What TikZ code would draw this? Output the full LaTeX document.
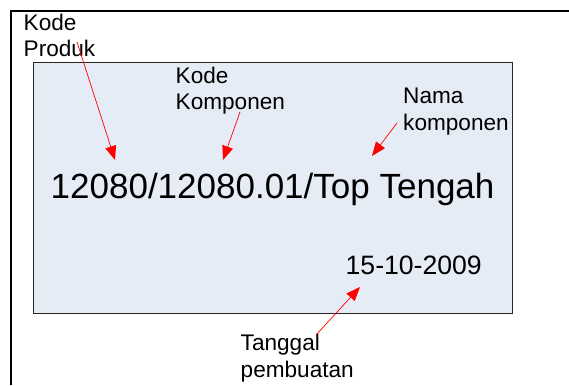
\documentclass[tikz,border=0pt]{standalone}
\usepackage{fontspec}
\setmainfont{Liberation Sans}
\usetikzlibrary{arrows.meta}
\definecolor{cardfill}{RGB}{230,236,246}
\tikzset{
  lbl/.style={inner sep=0pt, align=left, anchor=base west, font=\fontsize{22.6}{26.5}\selectfont},
  redarrow/.style={draw=red, line width=0.7pt, -{Triangle[length=14pt,width=11pt]}},
  frame/.style={line width=2pt}
}
\begin{document}
\begin{tikzpicture}[x=1pt,y=-1pt]
\useasboundingbox (0,0) rectangle (569,385);
% outer frame
\coordinate (fa) at (11,385);
\coordinate (fb) at (11,11);
\coordinate (fc) at (569,11);
\draw[frame] (fa) -- (fb) -- (fc);
% card
\node (card) [draw=black!85, line width=0.8pt, fill=cardfill, minimum width=479pt, minimum height=251pt, anchor=north west, inner sep=0pt] at (33,62) {};
% main texts
\node (code) [inner sep=0pt, anchor=base west, font=\fontsize{35}{40}\selectfont] at (50.5,198) {12080/12080.01/Top Tengah};
\node (date) [inner sep=0pt, anchor=base west, font=\fontsize{26.6}{31}\selectfont] at (345.5,274) {15-10-2009};
% labels (base = last line)
\node (kp) [lbl] at (23.5,57) {Kode\\Produk};
\node (kk) [lbl] at (175.5,110) {Kode\\Komponen};
\node (nk) [lbl] at (403,130) {Nama\\komponen};
\node (tp) [lbl] at (240.5,377) {Tanggal\\pembuatan};
% arrow ends
\coordinate (kps) at (77,42);
\coordinate (kpt) at (115,160);
\coordinate (kks) at (240,112);
\coordinate (kkt) at (223,160);
\coordinate (nks) at (397,123);
\coordinate (nkt) at (372,156);
\coordinate (tps) at (316,335);
\coordinate (tpt) at (360,287);
\draw[redarrow] (kps) -- (kpt);
\draw[redarrow] (kks) -- (kkt);
\draw[redarrow] (nks) -- (nkt);
\draw[redarrow] (tps) -- (tpt);
\end{tikzpicture}
\end{document}
